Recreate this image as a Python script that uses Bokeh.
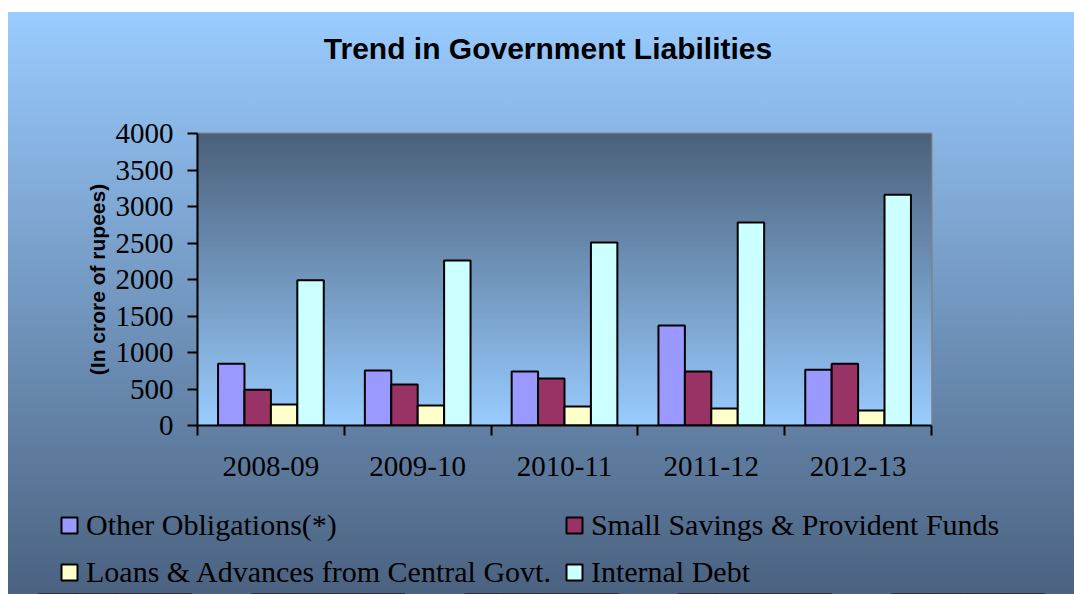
import numpy as np
from bokeh.plotting import figure
from bokeh.models import (Range1d, LinearAxis, FixedTicker, ColumnDataSource, Legend,
                          LegendItem, Label)
from bokeh.transform import dodge
from bokeh.embed import file_html
from bokeh.resources import INLINE

years = ["2008-09", "2009-10", "2010-11", "2011-12", "2012-13"]
other_obligations = [845, 753, 740, 1370, 763]
small_savings = [489, 562, 644, 740, 845]
loans_advances = [288, 274, 260, 233, 205]
internal_debt = [1990, 2260, 2507, 2781, 3160]

series_names = ["Other Obligations(*)", "Small Savings & Provident Funds",
                "Loans & Advances from Central Govt.", "Internal Debt"]
series_keys = ["other", "small", "loans", "internal"]
series_colors = ["#9999FF", "#993366", "#FFFFCC", "#CCFFFF"]
y_ticks = [0, 500, 1000, 1500, 2000, 2500, 3000, 3500, 4000]
chart_title = "Trend in Government Liabilities"

centers = [i + 0.5 for i in range(len(years))]
source = ColumnDataSource(dict(pos=centers, year=years, other=other_obligations,
                               small=small_savings, loans=loans_advances,
                               internal=internal_debt))
offsets = [-0.27, -0.09, 0.09, 0.27]
W = 1066


def strip(fig, c_top, c_bot):
    fig.styles = {"background": f"linear-gradient(to bottom, {c_top} 0%, {c_bot} 100%)",
                  "position": "relative", "top": "12px", "left": "8px"}
    fig.border_fill_color = None
    fig.background_fill_color = None


# ---------- title strip ----------
head = figure(width=W, height=70, x_range=Range1d(0, 1), y_range=Range1d(0, 1),
              x_axis_type=None, y_axis_type=None, output_backend="svg",
              toolbar_location=None, min_border_left=0, min_border_right=0,
              min_border_top=0, min_border_bottom=0)
strip(head, "rgb(153,204,255)", "rgb(144,191,240)")
head.outline_line_color = None
head.grid.visible = False
head.add_layout(Label(x=539.5, y=34, x_units="screen", y_units="screen", text=chart_title,
                      text_align="center", text_baseline="alphabetic",
                      text_font="Liberation Sans", text_font_style="bold",
                      text_font_size="30px", text_color="black"))

# ---------- main chart ----------
main = figure(width=W, height=423, x_range=Range1d(0, len(years)),
              y_range=Range1d(0, 4000), x_axis_type=None, output_backend="svg",
              toolbar_location=None, min_border_left=189, min_border_right=143,
              min_border_top=51, min_border_bottom=80)
strip(main, "rgb(144,191,240)", "rgb(87,114,147)")
main.outline_line_color = "#808080"
main.outline_line_width = 2
main.grid.visible = False

# plot-area gradient (dark at top, light at bottom)
n = 200
t = np.linspace(0, 1, n)
c0 = np.array([153, 204, 255])
c1 = np.array([75, 97, 123])
cols = (c0[None, :] * (1 - t[:, None]) + c1[None, :] * t[:, None]).astype(np.uint8)
img = np.zeros((n, 1), dtype=np.uint32)
view = img.view(dtype=np.uint8).reshape((n, 1, 4))
view[:, 0, 0] = cols[:, 0]
view[:, 0, 1] = cols[:, 1]
view[:, 0, 2] = cols[:, 2]
view[:, 0, 3] = 255
main.image_rgba(image=[img], x=0, y=0, dw=len(years), dh=4000, level="image")

for key, color, off in zip(series_keys, series_colors, offsets):
    main.vbar(x=dodge("pos", off), top=key, width=0.18, source=source,
              fill_color=color, line_color="black", line_width=2)

ya = main.yaxis[0]
ya.ticker = FixedTicker(ticks=y_ticks)
ya.minor_tick_line_color = None
ya.major_tick_in = 0
ya.major_tick_out = 10
ya.major_tick_line_width = 2
ya.axis_line_width = 2
ya.major_label_standoff = 14
ya.major_label_text_font = "Liberation Serif"
ya.major_label_text_font_size = "29px"
ya.major_label_text_color = "black"
ya.axis_label = "(In crore of rupees)"
ya.axis_label_text_font = "Liberation Sans"
ya.axis_label_text_font_style = "bold"
ya.axis_label_text_font_size = "21px"
ya.axis_label_text_color = "black"
ya.axis_label_standoff = 4

# x tick marks at category boundaries
xt = LinearAxis(ticker=FixedTicker(ticks=list(range(len(years) + 1))))
xt.major_tick_in = 0
xt.major_tick_out = 10
xt.major_tick_line_width = 2
xt.minor_tick_line_color = None
xt.axis_line_width = 2
xt.major_label_text_font_size = "1px"
xt.major_label_text_color = None
xt.major_label_standoff = 0
main.add_layout(xt, "below")

# category labels at centers
xc = LinearAxis(ticker=FixedTicker(ticks=centers),
                major_label_overrides={c: y for c, y in zip(centers, years)})
xc.axis_line_color = None
xc.major_tick_line_color = None
xc.minor_tick_line_color = None
xc.major_tick_out = 0
xc.major_tick_in = 0
xc.major_label_standoff = 21
xc.major_label_text_font = "Liberation Serif"
xc.major_label_text_font_size = "29px"
xc.major_label_text_color = "black"
main.add_layout(xc, "below")

# ---------- legend strip ----------
leg = figure(width=W, height=89, x_range=Range1d(0, len(years)),
             y_range=Range1d(9000, 13000), x_axis_type=None, y_axis_type=None,
             output_backend="svg", toolbar_location=None, min_border_left=0,
             min_border_right=0, min_border_top=0, min_border_bottom=0)
strip(leg, "rgb(87,114,147)", "rgb(75,98,128)")
leg.outline_line_color = None
leg.grid.visible = False
items = []
for key, name, color, off in zip(series_keys, series_names, series_colors, offsets):
    r = leg.vbar(x=dodge("pos", off), top=key, width=0.18, source=source,
                 fill_color=color, line_color="black", line_width=2)
    items.append(LegendItem(label=name, renderers=[r]))
legend = Legend(items=items, location=(51, 5), orientation="horizontal", ncols=2,
                background_fill_alpha=0, border_line_color=None, padding=0, margin=0,
                spacing=13, glyph_width=20, glyph_height=20, label_standoff=7,
                label_text_font="Liberation Serif", label_text_font_size="30px",
                label_text_color="black")
leg.add_layout(legend, "center")

p = [head, main, leg]
open("out.html", "w").write(file_html(p, INLINE))
